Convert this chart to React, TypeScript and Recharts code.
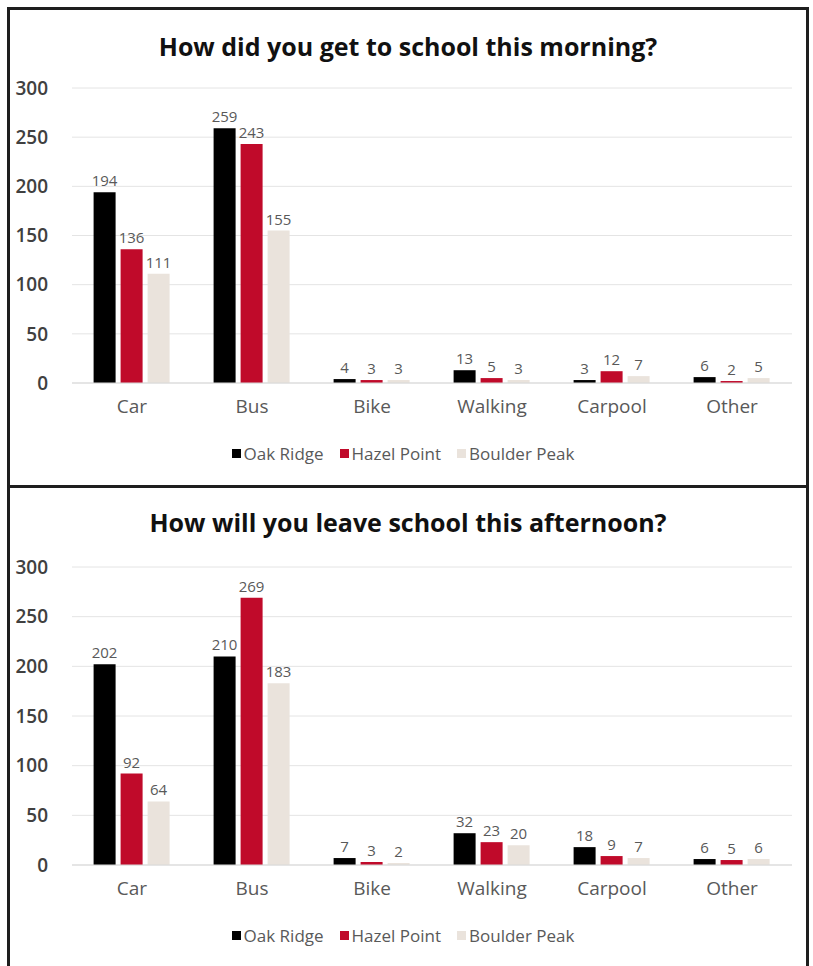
import { BarChart, Bar, XAxis, YAxis, CartesianGrid, Legend, LabelList } from "recharts";

const CATEGORIES = ["Car", "Bus", "Bike", "Walking", "Carpool", "Other"];
const SCHOOLS = ["Oak Ridge", "Hazel Point", "Boulder Peak"];
const COLORS = ["#000000", "#C00A2A", "#EAE3DC"];

const MORNING_OAK = [194, 259, 4, 13, 3, 6];
const MORNING_HAZEL = [136, 243, 3, 5, 12, 2];
const MORNING_BOULDER = [111, 155, 3, 3, 7, 5];

const AFTERNOON_OAK = [202, 210, 7, 32, 18, 6];
const AFTERNOON_HAZEL = [92, 269, 3, 23, 9, 5];
const AFTERNOON_BOULDER = [64, 183, 2, 20, 7, 6];

const Y_TICKS = [0, 50, 100, 150, 200, 250, 300];

const FONT = "'Open Sans', 'DejaVu Sans', sans-serif";
const W = 796;
const H = 475;

function buildRows(series: number[][]) {
  return CATEGORIES.map((name, i) => ({
    name,
    s0: series[0][i],
    s1: series[1][i],
    s2: series[2][i],
  }));
}

function LegendContent() {
  return (
    <div style={{ display: "flex", justifyContent: "center", gap: 16, paddingRight: 10, fontFamily: FONT, fontSize: 17, color: "#595959" }}>
      {SCHOOLS.map((s, i) => (
        <span key={s} style={{ display: "flex", alignItems: "center", gap: 3 }}>
          <span style={{ width: 9, height: 9, background: COLORS[i], display: "inline-block" }} />
          {s}
        </span>
      ))}
    </div>
  );
}

interface PanelProps {
  title: string;
  series: number[][];
  top: number;
  titleTop: number;
  plotTop: number;
  plotBottom: number;
}

function Panel({ title, series, top, titleTop, plotTop, plotBottom }: PanelProps) {
  const data = buildRows(series);
  return (
    <div style={{ position: "absolute", left: 10, top, width: W, height: H }}>
      <div
        style={{
          position: "absolute",
          top: titleTop,
          left: 0,
          width: W,
          textAlign: "center",
          fontFamily: FONT,
          fontWeight: 700,
          fontSize: 25,
          color: "#111",
        }}
      >
        {title}
      </div>
      <BarChart
        width={W}
        height={H}
        data={data}
        margin={{ top: plotTop, right: 14, bottom: H - plotBottom - 64, left: 0 }}
        barCategoryGap="18%"
        barGap={5}
      >
        <CartesianGrid vertical={false} stroke="#e4e4e4" />
        <XAxis
          dataKey="name"
          axisLine={{ stroke: "#d9d9d9" }}
          tickLine={false}
          height={40}
          tickMargin={11}
          tick={{ fontSize: 19, fill: "#595959", fontFamily: FONT }}
        />
        <YAxis
          domain={[0, 300]}
          ticks={Y_TICKS}
          width={62}
          axisLine={false}
          tickLine={false}
          tickMargin={18}
          tick={{ fontSize: 19, fill: "#404040", fontFamily: FONT, fontWeight: 600 }}
        />
        <Legend
          verticalAlign="bottom"
          height={24}
          content={<LegendContent />}
          wrapperStyle={{ top: plotBottom + 59, bottom: "auto", left: 0, width: W }}
        />
        {["s0", "s1", "s2"].map((key, i) => (
          <Bar key={key} dataKey={key} name={SCHOOLS[i]} fill={COLORS[i]} isAnimationActive={false}>
            <LabelList dataKey={key} position="top" offset={6} fill="#595959" fontSize={15} fontFamily={FONT} />
          </Bar>
        ))}
      </BarChart>
    </div>
  );
}

export default function App() {
  return (
    <div style={{ position: "relative", width: 813, height: 966, overflow: "hidden", background: "#fff" }}>
      <style>{"body{margin:0;overflow:hidden;}"}</style>
      <div
        style={{
          position: "absolute",
          left: 7,
          top: 7,
          width: 796,
          height: 970,
          border: "3px solid #1e1e1e",
        }}
      />
      <div style={{ position: "absolute", left: 7, top: 485, width: 802, height: 3, background: "#1e1e1e" }} />
      <Panel
        title="How did you get to school this morning?"
        series={[MORNING_OAK, MORNING_HAZEL, MORNING_BOULDER]}
        top={10}
        titleTop={19}
        plotTop={78}
        plotBottom={373}
      />
      <Panel
        title="How will you leave school this afternoon?"
        series={[AFTERNOON_OAK, AFTERNOON_HAZEL, AFTERNOON_BOULDER]}
        top={490}
        titleTop={15}
        plotTop={77}
        plotBottom={375}
      />
    </div>
  );
}
